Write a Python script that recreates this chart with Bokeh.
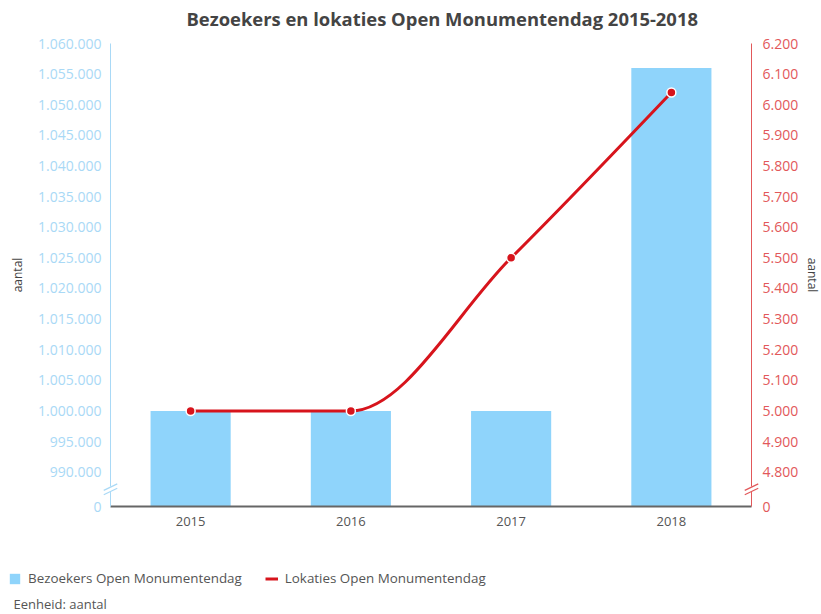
import numpy as np
from bokeh.plotting import figure
from bokeh.models import (Range1d, LinearAxis, FixedTicker, Legend, LegendItem,
                          Label)
from bokeh.embed import file_html
from bokeh.resources import INLINE

# ---- data ----
years = ["2015", "2016", "2017", "2018"]
bezoekers = [1000000, 1000000, 1000000, 1056000]
lokaties = [5000, 5000, 5500, 6040]
left_ticks = list(range(990000, 1060001, 5000))
right_ticks = list(range(4800, 6201, 100))

# ---- styling / layout ----
FONT = "Open Sans"
BAR = "#8fd4fb"
RED = "#d7141c"
LBLUE = "#a9d9f6"
LRED = "#e2585a"
GRAY = "#555555"

W, H = 821, 614
AX_LEFT_PX, AX_RIGHT_PX = 110, 751   # y-axis lines (screen px from left)
AX_TOP_PX, AX_BOTTOM_PX = 43, 506    # top of axes / x-axis line (px from top)
PLOT_H = AX_BOTTOM_PX - AX_TOP_PX

L_FLOOR, L_TOP = 984400, 1060000     # broken axis: floor is labelled "0"
R_FLOOR, R_TOP = 4688, 6200

xs = np.arange(1, len(years) + 1)
ux = (AX_RIGHT_PX - AX_LEFT_PX) / len(years)          # px per category
x_start = 0.5 - AX_LEFT_PX / ux
x_end = x_start + W / ux

def yr(lo, hi):
    upp = (hi - lo) / PLOT_H
    return Range1d(lo - (H - AX_BOTTOM_PX) * upp, hi + AX_TOP_PX * upp)

p = figure(width=W, height=H, output_backend="svg", toolbar_location=None,
           x_range=Range1d(x_start, x_end), y_range=yr(L_FLOOR, L_TOP),
           min_border=0, outline_line_color=None,
           x_axis_location=None, y_axis_location=None)
p.xgrid.visible = False
p.ygrid.visible = False
p.extra_y_ranges = {"loc": yr(R_FLOOR, R_TOP)}

def nl(v):
    return f"{v:,}".replace(",", ".")

def style_axis(ax):
    ax.major_tick_line_color = None
    ax.major_tick_out = 0
    ax.major_tick_in = 0
    ax.minor_tick_line_color = None
    ax.major_label_text_font = FONT
    ax.axis_label_text_font = FONT
    ax.axis_label_text_font_size = "12px"
    ax.axis_label_text_font_style = "normal"
    ax.axis_label_text_color = "#444444"

# x axis
xa = LinearAxis(fixed_location=L_FLOOR, bounds=(0.5, len(years) + 0.5))
style_axis(xa)
xa.ticker = FixedTicker(ticks=list(xs))
xa.major_label_overrides = {int(x): y for x, y in zip(xs, years)}
xa.axis_line_color = "#666666"
xa.axis_line_width = 2
xa.major_label_text_font_size = "13px"
xa.major_label_text_color = GRAY
xa.major_label_standoff = 10
p.add_layout(xa, "below")

# left axis
ya = LinearAxis(fixed_location=0.5, bounds=(L_FLOOR, L_TOP))
style_axis(ya)
ya.ticker = FixedTicker(ticks=[L_FLOOR] + left_ticks)
ov = {L_FLOOR: "0"}
ov.update({t: nl(t) for t in left_ticks})
ya.major_label_overrides = ov
ya.axis_line_color = LBLUE
ya.major_label_text_font_size = "14px"
ya.major_label_text_color = LBLUE
ya.major_label_standoff = 9
ya.axis_label = "aantal"
ya.axis_label_standoff = 9
p.add_layout(ya, "left")

# right axis
ra = LinearAxis(y_range_name="loc", fixed_location=len(years) + 0.5,
                bounds=(R_FLOOR, R_TOP))
style_axis(ra)
ra.ticker = FixedTicker(ticks=[R_FLOOR] + right_ticks)
rov = {R_FLOOR: "0"}
rov.update({t: nl(t) for t in right_ticks})
ra.major_label_overrides = rov
ra.axis_line_color = LRED
ra.major_label_text_font_size = "14px"
ra.major_label_text_color = LRED
ra.major_label_standoff = 11
ra.axis_label = "aantal"
ra.axis_label_standoff = 3
p.add_layout(ra, "right")

# bars
bars = p.vbar(x=xs, top=bezoekers, bottom=L_FLOOR, width=0.5,
              fill_color=BAR, line_color=None)

# monotone (d3 monotoneX) spline for line series
xv = xs.astype(float)
yv = np.array(lokaties, dtype=float)
n = len(xv)
t = np.zeros(n)
for i in range(1, n - 1):
    h0 = xv[i] - xv[i - 1]; h1 = xv[i + 1] - xv[i]
    s0 = (yv[i] - yv[i - 1]) / h0; s1 = (yv[i + 1] - yv[i]) / h1
    pp = (s0 * h1 + s1 * h0) / (h0 + h1)
    t[i] = (np.sign(s0) + np.sign(s1)) * min(abs(s0), abs(s1), 0.5 * abs(pp))
t[0] = (3 * (yv[1] - yv[0]) / (xv[1] - xv[0]) - t[1]) / 2
t[-1] = (3 * (yv[-1] - yv[-2]) / (xv[-1] - xv[-2]) - t[-2]) / 2
dx = (xv[1:] - xv[:-1]) / 3
curve = p.bezier(x0=xv[:-1], y0=yv[:-1], x1=xv[1:], y1=yv[1:],
                 cx0=xv[:-1] + dx, cy0=yv[:-1] + dx * t[:-1],
                 cx1=xv[1:] - dx, cy1=yv[1:] - dx * t[1:],
                 line_color=RED, line_width=3, y_range_name="loc")
p.scatter(x=xs, y=lokaties, size=9, fill_color=RED, line_color="white",
          line_width=1.5, y_range_name="loc")

# axis break marks
lpx = (L_TOP - L_FLOOR) / PLOT_H
rpx = (R_TOP - R_FLOOR) / PLOT_H
lb = (L_FLOOR + left_ticks[0]) / 2
rb = (R_FLOOR + right_ticks[0]) / 2
x_l, x_r = 0.5, len(years) + 0.5
p.scatter(x=[x_l], y=[lb], marker="dash", size=15, angle=np.pi / 7,
          line_color="white", line_width=5, level="overlay")
p.scatter(x=[x_l, x_l], y=[lb - 2.2 * lpx, lb + 2.2 * lpx], marker="dash", size=15,
          angle=np.pi / 7, line_color=LBLUE, line_width=1.2, level="overlay")
p.scatter(x=[x_r], y=[rb], marker="dash", size=15, angle=np.pi / 7,
          line_color="white", line_width=5, level="overlay", y_range_name="loc")
p.scatter(x=[x_r, x_r], y=[rb - 2.2 * rpx, rb + 2.2 * rpx], marker="dash", size=15,
          angle=np.pi / 7, line_color=LRED, line_width=1.2, level="overlay",
          y_range_name="loc")

# title
p.add_layout(Label(x=186, y=H - 18, x_units="screen", y_units="screen",
                   text="Bezoekers en lokaties Open Monumentendag 2015-2018",
                   text_font=FONT, text_font_size="18.4px", text_font_style="bold",
                   text_color="#444444", text_baseline="middle"))

# legend
legend = Legend(items=[LegendItem(label="Bezoekers Open Monumentendag", renderers=[bars]),
                       LegendItem(label="Lokaties Open Monumentendag", renderers=[curve])],
                orientation="horizontal", location=(8, H - 587),
                border_line_color=None, background_fill_alpha=0,
                padding=0, margin=0, spacing=23, glyph_width=13, glyph_height=13,
                label_height=17,
                label_standoff=7, label_text_font=FONT, label_text_font_size="13.4px",
                label_text_color=GRAY)
p.add_layout(legend, "center")

p.add_layout(Label(x=13, y=H - 603, x_units="screen", y_units="screen",
                   text="Eenheid: aantal", text_font=FONT, text_font_size="13px",
                   text_color=GRAY, text_baseline="middle"))

open("out.html", "w").write(file_html(p, INLINE))
